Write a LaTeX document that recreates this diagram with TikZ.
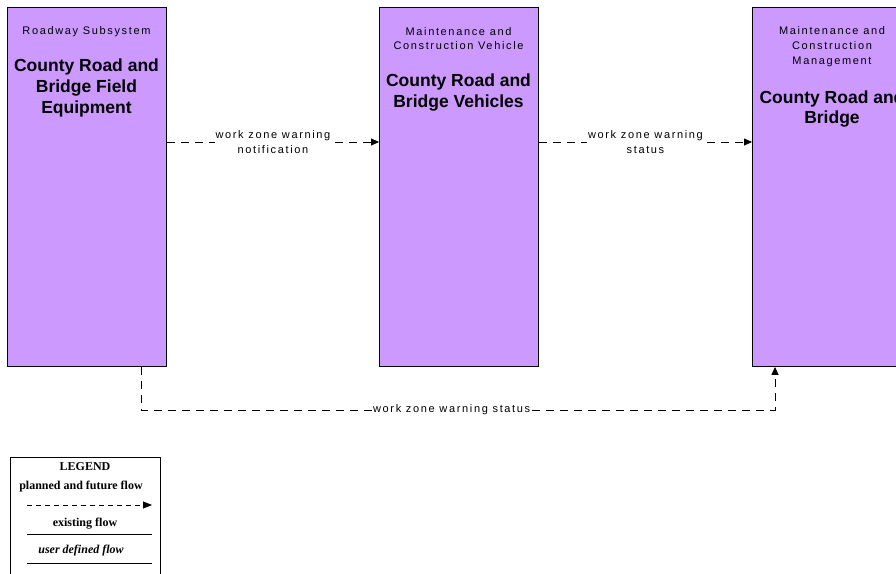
\documentclass[tikz,border=0pt]{standalone}
\usepackage{fontspec}
\setmainfont{Liberation Sans}
\newfontfamily\pixf[LetterSpace=15]{Liberation Sans}
\newfontfamily\legf{Liberation Serif}
\usetikzlibrary{arrows.meta}
\definecolor{boxfill}{HTML}{CC99FF}
\tikzset{
  sysbox/.style={draw=black, line width=0.9pt, fill=boxfill, anchor=north west, minimum width=159pt, minimum height=359pt, inner sep=0pt},
  smalltxt/.style={font=\pixf\fontsize{11}{14}\selectfont, align=center, inner sep=0pt},
  titletxt/.style={font=\bfseries\fontsize{17.5}{21}\selectfont, align=center, inner sep=0pt},
  flow/.style={line width=0.8pt, dash pattern=on 8pt off 6pt, -{Triangle[length=8pt,width=7pt]}},
  flowlabel/.style={font=\pixf\fontsize{11}{15}\selectfont, align=center, fill=white, inner sep=1pt},
  legtxt/.style={font=\legf\bfseries\fontsize{12}{14}\selectfont, inner sep=0pt},
}
\begin{document}
\begin{tikzpicture}[x=1pt,y=-1pt]
\useasboundingbox (0,0) rectangle (896,573);
\clip (0,0) rectangle (896,573);
\fill[white] (0,0) rectangle (896,573);
% boxes
\node[sysbox] (b1) at (7,7) {};
\node[sysbox] (b2) at (379,7) {};
\node[sysbox, minimum width=160pt] (b3) at (752,7) {};
% box texts
\node[smalltxt] (s1) at (86.5,32) {Roadway Subsystem};
\node[titletxt] (t1) at (86.5,88) {County Road and\\Bridge Field\\Equipment};
\node[smalltxt] (s2) at (458.5,39) {Maintenance and\\Construction Vehicle};
\node[titletxt] (t2) at (458.5,92.5) {County Road and\\Bridge Vehicles};
\node[smalltxt, font=\pixf\fontsize{11}{15}\selectfont] (s3) at (832,47) {Maintenance and\\Construction\\Management};
\node[titletxt, font=\bfseries\fontsize{17.5}{20}\selectfont] (t3) at (832,109) {County Road and\\Bridge};
% flows
\draw[flow] (b1.north east |- 0,142) -- node[flowlabel] (l1) {work zone warning\\notification} (b2.north west |- 0,142);
\draw[flow] (b2.north east |- 0,142) -- node[flowlabel] (l2) {work zone warning\\status} (b3.north west |- 0,142);
\coordinate (c1) at (141,410);
\coordinate (c2) at (775,410);
\draw[flow] (b1.south west -| c1) -- (c1) -- node[flowlabel, pos=0.49] (l3) {work zone warning status} (c2) -- (b3.south west -| c2);
% legend
\draw[line width=0.8pt] (10,580) -- (10,457) -- (160,457) -- (160,580);
\node[legtxt] (lg) at (85,467) {LEGEND};
\node[legtxt] (lp) at (81,487) {planned and future flow};
\coordinate (la1) at (27,505);
\coordinate (la2) at (152,505);
\draw[line width=0.8pt, dash pattern=on 5pt off 4pt, -{Triangle[length=9pt,width=7pt]}] (la1) -- (la2);
\node[legtxt] (le) at (85,524) {existing flow};
\coordinate (lb1) at (27,534);
\coordinate (lb2) at (152,534);
\draw[line width=0.8pt] (lb1) -- (lb2);
\node[legtxt, font=\legf\bfseries\itshape\fontsize{12}{14}\selectfont] (lu) at (81,551) {user defined flow};
\coordinate (lc1) at (27,563);
\coordinate (lc2) at (152,563);
\draw[line width=1pt] (lc1) -- (lc2);
\end{tikzpicture}
\end{document}
